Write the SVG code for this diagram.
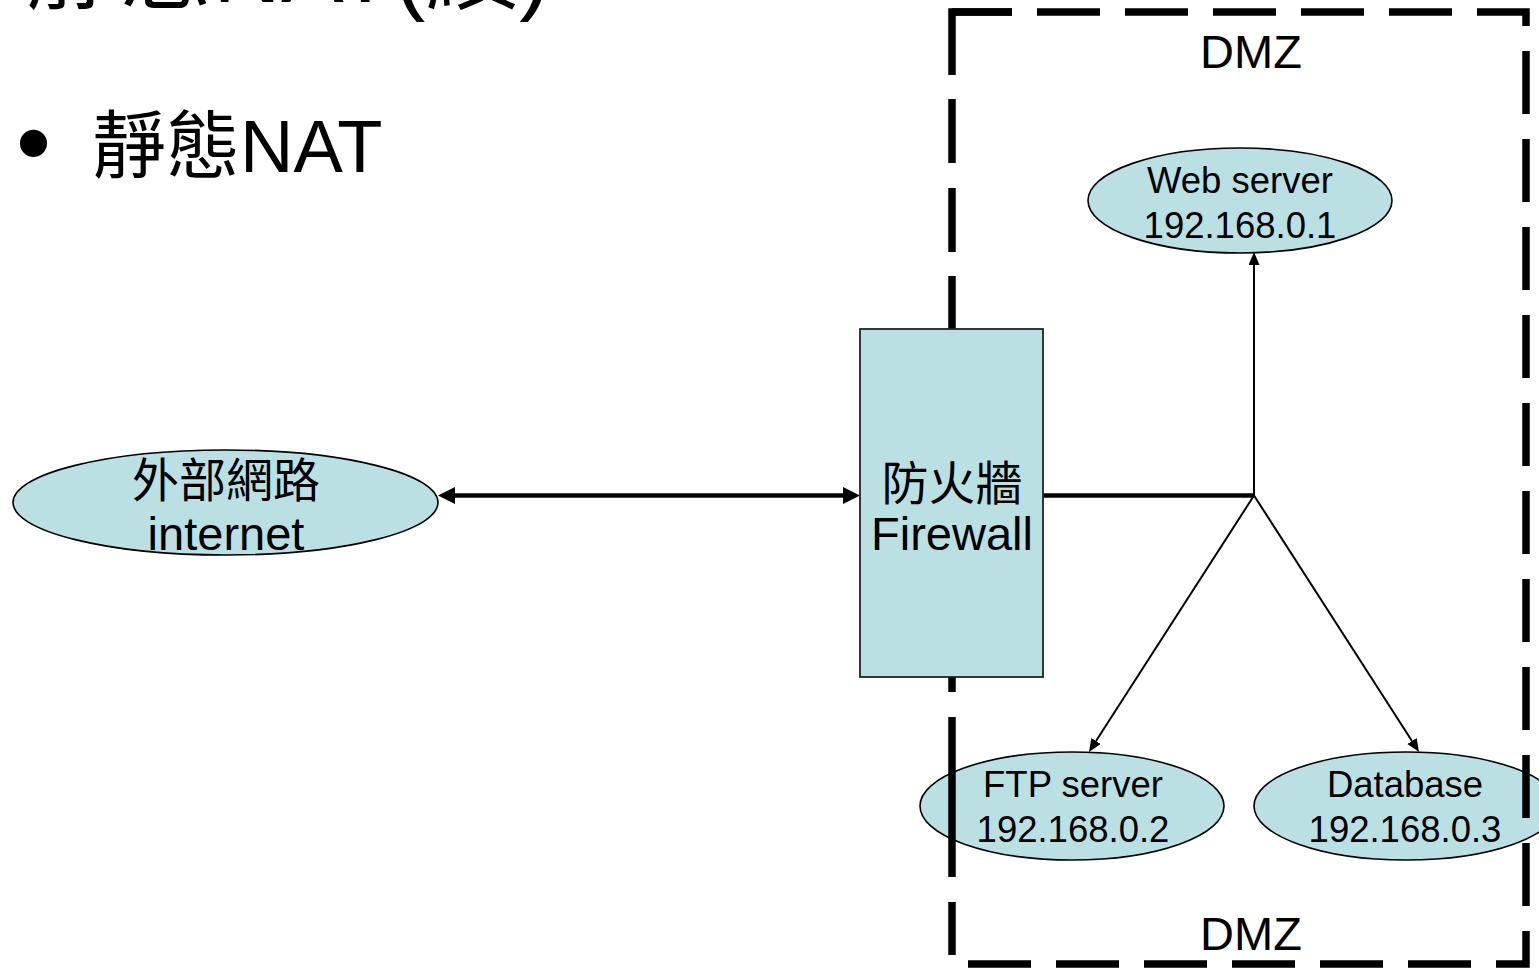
<svg xmlns="http://www.w3.org/2000/svg" width="1539" height="968" viewBox="0 0 1539 968">
  <style>
    text { font-family: "Liberation Sans", "Noto Sans CJK TC", Arial, sans-serif; fill: #000; }
    .node { fill: #BBE0E3; stroke: #000; stroke-width: 1.6; }
    .wall { fill: #BBE0E3; stroke: #222; stroke-width: 1.8; }
    .dmz { fill: none; stroke: #000; stroke-width: 7.5; stroke-linejoin: miter; }
    .thick { fill: none; stroke: #000; stroke-width: 4.5; }
    .thin { fill: none; stroke: #000; stroke-width: 2; }
    .lbl { font-size: 36.5px; text-anchor: middle; }
    .big { font-size: 47px; text-anchor: middle; }
  </style>
  <defs>
    <marker id="headBig" markerUnits="userSpaceOnUse" markerWidth="18" markerHeight="18" refX="0" refY="8.5" orient="auto-start-reverse">
      <path d="M0,0 L17,8.5 L0,17 z" fill="#000"/>
    </marker>
    <marker id="headSmall" markerUnits="userSpaceOnUse" markerWidth="14" markerHeight="12" refX="0" refY="5.5" orient="auto">
      <path d="M0,0 L13,5.5 L0,11 z" fill="#000"/>
    </marker>
  </defs>

  <!-- slide title and bullet -->
  <g id="title">
    <text x="25" y="2" font-size="94">靜態NAT(續)</text>
  </g>
  <g id="bullet">
    <text x="16" y="177" font-size="100">•</text>
    <text x="92" y="172" font-size="74">靜態NAT</text>
  </g>

  <!-- links -->
  <g id="connectors">
    <line class="thick" x1="455" y1="495.5" x2="843" y2="495.5" marker-start="url(#headBig)" marker-end="url(#headBig)"/>
    <line class="thick" x1="1043" y1="495.5" x2="1254" y2="495.5"/>
    <line class="thin" x1="1254" y1="495.5" x2="1254" y2="265" marker-end="url(#headSmall)"/>
    <line class="thin" x1="1254" y1="495.5" x2="1096" y2="741" marker-end="url(#headSmall)"/>
    <line class="thin" x1="1254" y1="495.5" x2="1412" y2="741" marker-end="url(#headSmall)"/>
  </g>

  <g id="internet">
    <ellipse class="node" cx="225.5" cy="502.5" rx="212.5" ry="52.5"/>
    <text class="big" x="226" y="497">外部網路</text>
    <text class="big" x="226" y="550">internet</text>
  </g>

  <g id="web-server">
    <ellipse class="node" cx="1240" cy="200.5" rx="152" ry="52.5"/>
    <text class="lbl" x="1240" y="193">Web server</text>
    <text class="lbl" x="1240" y="238">192.168.0.1</text>
  </g>

  <g id="ftp-server">
    <ellipse class="node" cx="1072" cy="806" rx="152" ry="54"/>
    <text class="lbl" x="1073" y="797">FTP server</text>
    <text class="lbl" x="1073" y="842">192.168.0.2</text>
  </g>

  <g id="database">
    <ellipse class="node" cx="1406" cy="806" rx="152" ry="54"/>
    <text class="lbl" x="1405" y="797">Database</text>
    <text class="lbl" x="1405" y="842">192.168.0.3</text>
  </g>

  <!-- DMZ zone outline -->
  <g id="dmz">
    <path class="dmz" d="M952,12 H1526 V964 H952" stroke-dasharray="63 25" stroke-dashoffset="3"/>
    <path class="dmz" d="M952,75 V12 H1012 M952,99 V163 M952,188 V252 M952,276 V340 M952,364 V427 M952,452 V515 M952,540 V603 M952,628 V692 M952,717 V877 M952,902 V955"/>
    <text class="big" x="1251" y="68" font-size="46">DMZ</text>
    <text class="big" x="1251" y="950" font-size="46">DMZ</text>
  </g>

  <g id="firewall">
    <rect class="wall" x="860" y="329" width="183" height="348"/>
    <text class="big" x="952" y="500">防火牆</text>
    <text class="big" x="952" y="550">Firewall</text>
  </g>
</svg>
